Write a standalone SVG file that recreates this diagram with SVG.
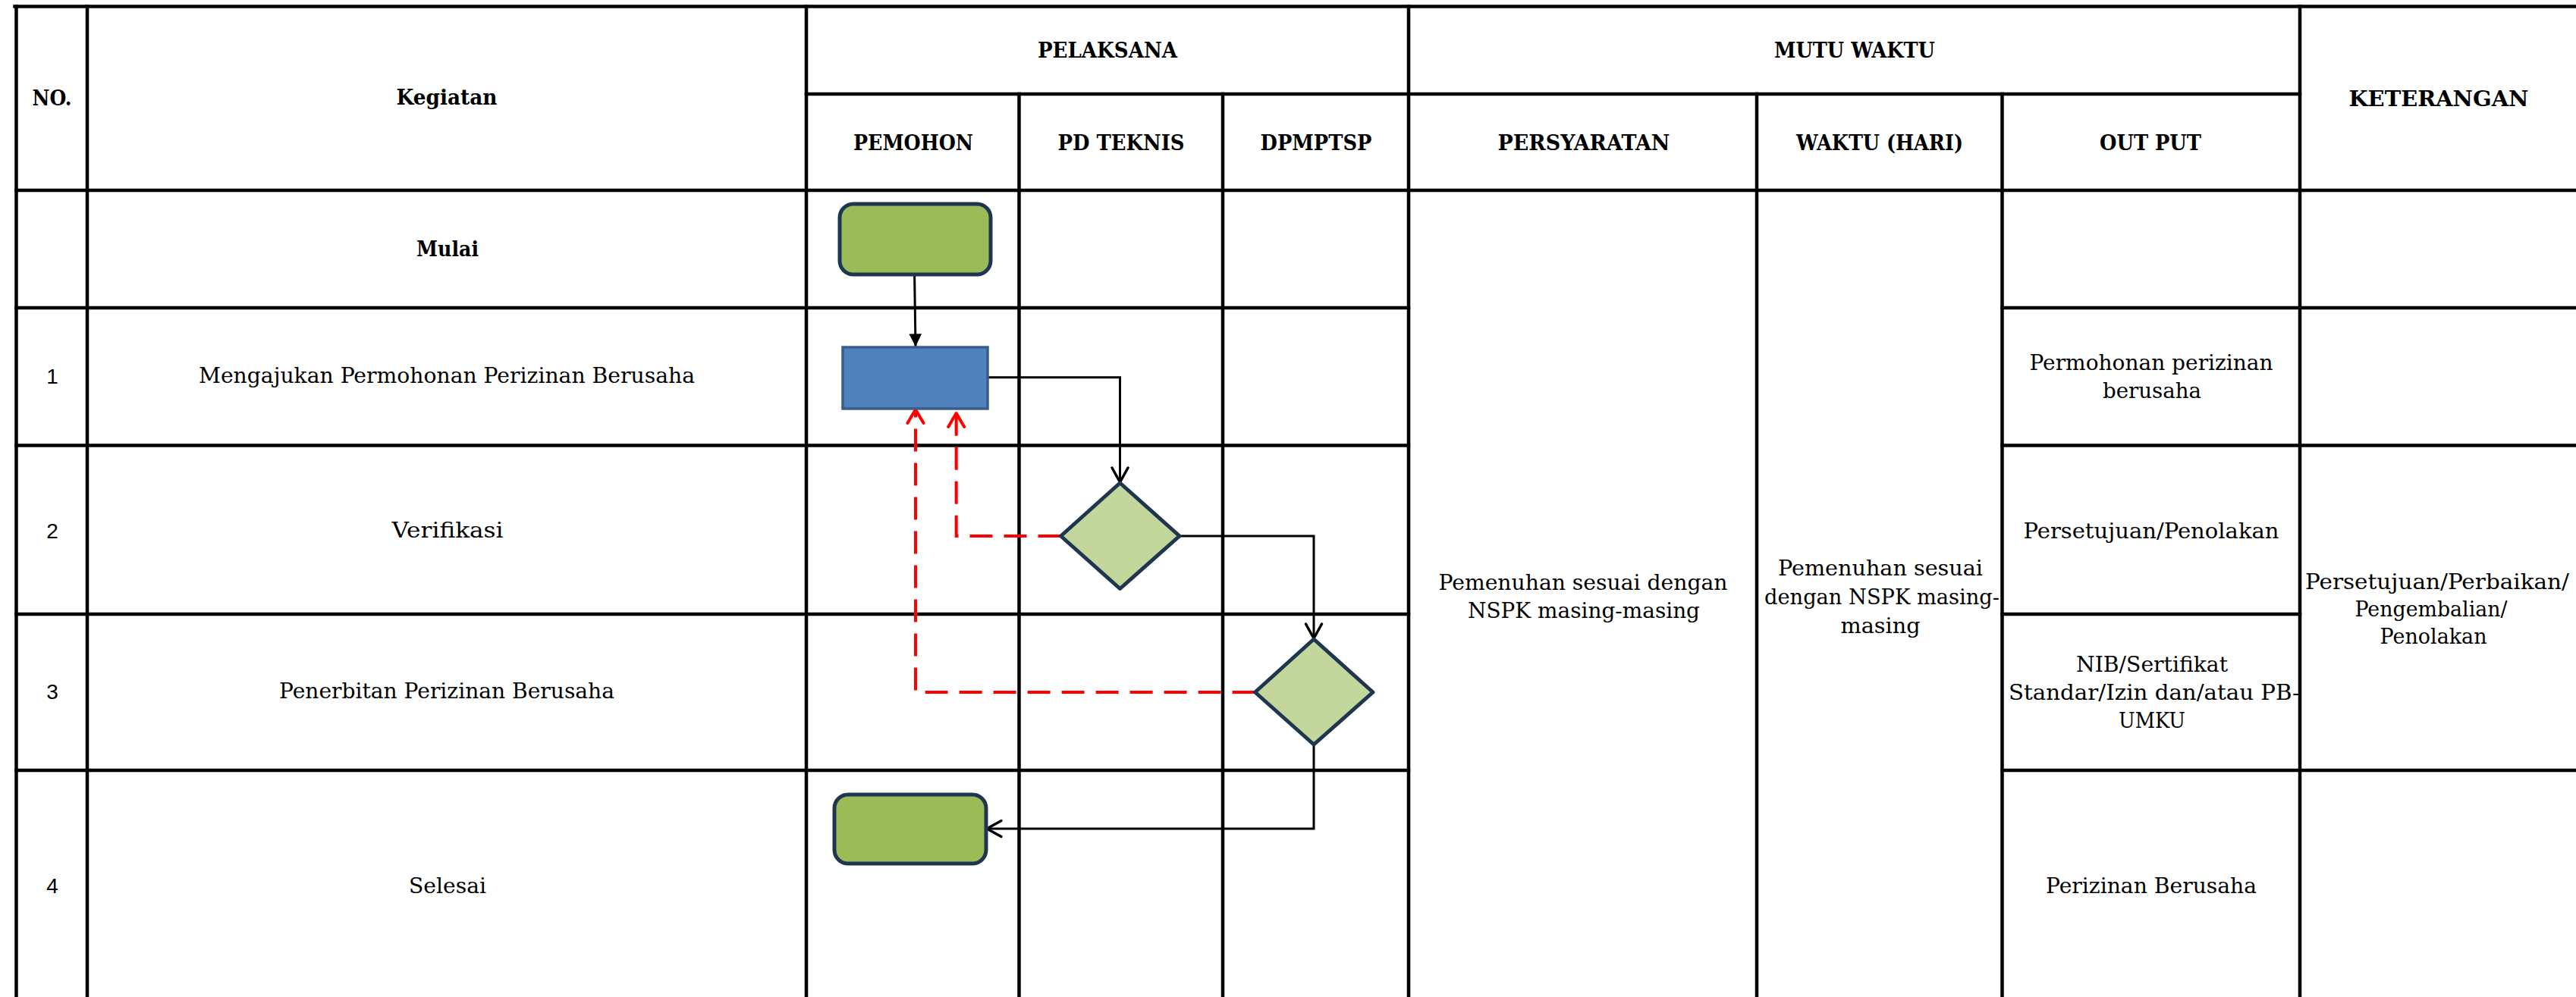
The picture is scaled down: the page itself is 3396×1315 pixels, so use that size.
<svg xmlns="http://www.w3.org/2000/svg" width="3396" height="1315" viewBox="0 0 3396 1315">
<style>
.grid line { stroke: #000; stroke-width: 4.5; stroke-linecap: square; }
.h { font-family: "DejaVu Serif", "Liberation Serif", serif; font-weight: bold; font-size: 27.5px; text-anchor: middle; fill: #000; }
.t { font-family: "DejaVu Serif", "Liberation Serif", serif; font-size: 28px; text-anchor: middle; fill: #000; }
.n { font-family: "Liberation Sans", Arial, sans-serif; font-size: 28px; text-anchor: middle; fill: #000; }
.term { fill: #9BBB59; stroke: #1F3651; stroke-width: 5; }
.proc { fill: #4F81BD; stroke: #385D8A; stroke-width: 3.5; }
.dec { fill: #C3D69B; stroke: #1F3651; stroke-width: 5; stroke-linejoin: round; }
.flow { fill: none; stroke: #000; stroke-width: 3; }
.back { fill: none; stroke: #FF0000; stroke-width: 4; stroke-dasharray: 30 15; }
</style>
<defs>
<marker id="tri" markerUnits="userSpaceOnUse" markerWidth="20" markerHeight="20" viewBox="-16 -9 17 18" refX="0" refY="0" orient="auto">
<path d="M-15,-7.5 L0,0 L-15,7.5 Z" fill="#000"/>
</marker>
<marker id="open" markerUnits="userSpaceOnUse" markerWidth="26" markerHeight="26" viewBox="-22 -13 24 26" refX="0" refY="0" orient="auto">
<path d="M-19,-10.5 L0,0 L-19,10.5" fill="none" stroke="#000" stroke-width="3.5" stroke-linecap="round" stroke-linejoin="round"/>
</marker>
<marker id="openred" markerUnits="userSpaceOnUse" markerWidth="26" markerHeight="26" viewBox="-22 -13 24 26" refX="0" refY="0" orient="auto">
<path d="M-18,-10.5 L0,0 L-18,10.5" fill="none" stroke="#FF0000" stroke-width="4" stroke-linecap="round" stroke-linejoin="round"/>
</marker>
</defs>
<rect x="0" y="0" width="3396" height="1315" fill="#FFFFFF"/>

<g id="table" class="grid">
<line x1="19.5" y1="8.5" x2="3400" y2="8.5"/>
<line x1="1063" y1="124" x2="3032" y2="124"/>
<line x1="21.5" y1="251" x2="3400" y2="251"/>
<line x1="21.5" y1="406" x2="1857" y2="406"/>
<line x1="2639.5" y1="406" x2="3400" y2="406"/>
<line x1="21.5" y1="587.5" x2="1857" y2="587.5"/>
<line x1="2639.5" y1="587.5" x2="3400" y2="587.5"/>
<line x1="21.5" y1="810" x2="1857" y2="810"/>
<line x1="2639.5" y1="810" x2="3032" y2="810"/>
<line x1="21.5" y1="1016" x2="1857" y2="1016"/>
<line x1="2639.5" y1="1016" x2="3400" y2="1016"/>
<line x1="21.5" y1="8.5" x2="21.5" y2="1320"/>
<line x1="115" y1="8.5" x2="115" y2="1320"/>
<line x1="1063" y1="8.5" x2="1063" y2="1320"/>
<line x1="1343.5" y1="124" x2="1343.5" y2="1320"/>
<line x1="1612" y1="124" x2="1612" y2="1320"/>
<line x1="1857" y1="8.5" x2="1857" y2="1320"/>
<line x1="2316" y1="124" x2="2316" y2="1320"/>
<line x1="2639.5" y1="124" x2="2639.5" y2="1320"/>
<line x1="3032" y1="8.5" x2="3032" y2="1320"/>
</g>

<g id="headers">
<text class="h" x="68.5" y="139" textLength="52" lengthAdjust="spacingAndGlyphs">NO.</text>
<text class="h" x="589" y="138" textLength="133" lengthAdjust="spacingAndGlyphs">Kegiatan</text>
<text class="h" x="1460" y="76" textLength="184" lengthAdjust="spacingAndGlyphs">PELAKSANA</text>
<text class="h" x="2445" y="76" textLength="212" lengthAdjust="spacingAndGlyphs">MUTU WAKTU</text>
<text class="h" x="3215" y="140" textLength="237" lengthAdjust="spacingAndGlyphs">KETERANGAN</text>
<text class="h" x="1204" y="198" textLength="158" lengthAdjust="spacingAndGlyphs">PEMOHON</text>
<text class="h" x="1478" y="198" textLength="167" lengthAdjust="spacingAndGlyphs">PD TEKNIS</text>
<text class="h" x="1735" y="198" textLength="147" lengthAdjust="spacingAndGlyphs">DPMPTSP</text>
<text class="h" x="2088" y="198" textLength="227" lengthAdjust="spacingAndGlyphs">PERSYARATAN</text>
<text class="h" x="2478" y="198" textLength="220" lengthAdjust="spacingAndGlyphs">WAKTU (HARI)</text>
<text class="h" x="2835" y="198" textLength="134" lengthAdjust="spacingAndGlyphs">OUT PUT</text>
</g>

<g id="rows">
<text class="h" x="590" y="338" textLength="82" lengthAdjust="spacingAndGlyphs">Mulai</text>
<text class="n" x="69" y="506">1</text>
<text class="t" x="589" y="505" textLength="654" lengthAdjust="spacingAndGlyphs">Mengajukan Permohonan Perizinan Berusaha</text>
<text class="n" x="69" y="710">2</text>
<text class="t" x="590" y="709" textLength="147" lengthAdjust="spacingAndGlyphs">Verifikasi</text>
<text class="n" x="69" y="922">3</text>
<text class="t" x="589" y="921" textLength="442" lengthAdjust="spacingAndGlyphs">Penerbitan Perizinan Berusaha</text>
<text class="n" x="69" y="1178">4</text>
<text class="t" x="590" y="1178" textLength="102" lengthAdjust="spacingAndGlyphs">Selesai</text>

<text class="t" x="2087" y="778" textLength="381" lengthAdjust="spacingAndGlyphs">Pemenuhan sesuai dengan</text>
<text class="t" x="2088" y="815" textLength="306" lengthAdjust="spacingAndGlyphs">NSPK masing-masing</text>

<text class="t" x="2479" y="759" textLength="270" lengthAdjust="spacingAndGlyphs">Pemenuhan sesuai</text>
<text class="t" x="2481" y="797" textLength="310" lengthAdjust="spacingAndGlyphs">dengan NSPK masing-</text>
<text class="t" x="2479" y="835" textLength="105" lengthAdjust="spacingAndGlyphs">masing</text>

<text class="t" x="2836" y="488" textLength="321" lengthAdjust="spacingAndGlyphs">Permohonan perizinan</text>
<text class="t" x="2837" y="525" textLength="130" lengthAdjust="spacingAndGlyphs">berusaha</text>
<text class="t" x="2836" y="710" textLength="337" lengthAdjust="spacingAndGlyphs">Persetujuan/Penolakan</text>
<text class="t" x="2837" y="886" textLength="200" lengthAdjust="spacingAndGlyphs">NIB/Sertifikat</text>
<text class="t" x="2840" y="923" textLength="384" lengthAdjust="spacingAndGlyphs">Standar/Izin dan/atau PB-</text>
<text class="t" x="2837" y="960" textLength="88" lengthAdjust="spacingAndGlyphs">UMKU</text>
<text class="t" x="2836" y="1178" textLength="278" lengthAdjust="spacingAndGlyphs">Perizinan Berusaha</text>

<text class="t" x="3213" y="777" textLength="348" lengthAdjust="spacingAndGlyphs">Persetujuan/Perbaikan/</text>
<text class="t" x="3205" y="813" textLength="201" lengthAdjust="spacingAndGlyphs">Pengembalian/</text>
<text class="t" x="3208" y="849" textLength="141" lengthAdjust="spacingAndGlyphs">Penolakan</text>
</g>

<g id="connectors">
<path class="flow" d="M1205.6,362 L1207,457" marker-end="url(#tri)"/>
<path class="flow" d="M1302,497.7 H1476.5 V636" marker-end="url(#open)"/>
<path class="flow" d="M1555,707 H1732 V842" marker-end="url(#open)"/>
<path class="flow" d="M1732,982 V1093 H1301" marker-end="url(#open)"/>
<path class="back" d="M1398.5,707 H1260.7 V545" marker-end="url(#openred)"/>
<path class="back" d="M1654.6,913 H1207 V540" marker-end="url(#openred)"/>
</g>

<g id="node-start">
<rect class="term" x="1107" y="269" width="199" height="93" rx="18" ry="18"/>
</g>
<g id="node-ajukan">
<rect class="proc" x="1111" y="458" width="191" height="81"/>
</g>
<g id="node-verifikasi">
<polygon class="dec" points="1476.5,637 1555,707 1476.5,776.5 1398.5,707"/>
</g>
<g id="node-penerbitan">
<polygon class="dec" points="1732,843 1810,913 1732,982 1654.6,913"/>
</g>
<g id="node-selesai">
<rect class="term" x="1100" y="1048" width="200" height="91" rx="18" ry="18"/>
</g>
</svg>
